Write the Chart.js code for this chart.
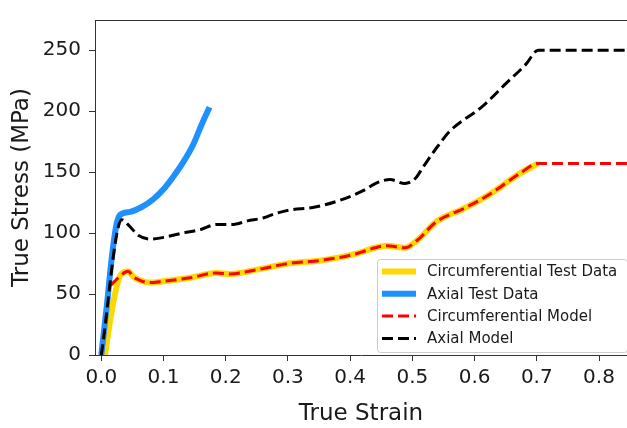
<!DOCTYPE html>
<html>
<head>
<meta charset="utf-8">
<script src="https://cdn.jsdelivr.net/npm/chart.js@4"></script>
<style>
  html, body { margin: 0; padding: 0; background: #fff; }
  #wrap { width: 627px; height: 428px; }
</style>
</head>
<body>
<div id="wrap"><canvas id="grafica" width="627" height="428"></canvas></div>
<script>
// values
const circTestStrain = [0.006, 0.014, 0.022, 0.030, 0.043, 0.052, 0.059, 0.076, 0.100, 0.143, 0.185, 0.207, 0.250, 0.303, 0.356, 0.410, 0.440, 0.459, 0.488, 0.507, 0.539, 0.582, 0.625, 0.673, 0.702];
const circTestStress = [0, 27.7, 50, 64.7, 68.6, 64, 62, 59.4, 60.5, 63.4, 67.3, 66.5, 70, 75.2, 77.8, 83.1, 88, 89.7, 87.9, 93.7, 109.5, 120, 132, 149, 157];

const axialTestStrain = [0.000, 0.009, 0.017, 0.024, 0.030, 0.046, 0.065, 0.084, 0.100, 0.116, 0.132, 0.148, 0.161, 0.174];
const axialTestStress = [0, 41, 80.5, 106, 114.8, 117.4, 121.4, 128, 136, 146.5, 158.4, 172.9, 188.7, 203.3];

const circModelStrain = [0.015, 0.030, 0.043, 0.052, 0.059, 0.076, 0.100, 0.143, 0.185, 0.207, 0.250, 0.303, 0.356, 0.410, 0.440, 0.459, 0.488, 0.507, 0.539, 0.582, 0.625, 0.673, 0.702, 0.845];
const circModelStress = [57, 64.7, 68.6, 64, 62, 59.4, 60.5, 63.4, 67.3, 66.5, 70, 75.2, 77.8, 83.1, 88, 89.7, 87.9, 93.7, 109.5, 120, 132, 149, 157, 157];

const axialModelStrain = [0.000, 0.033, 0.043, 0.060, 0.080, 0.100, 0.130, 0.160, 0.185, 0.210, 0.235, 0.260, 0.280, 0.303, 0.340, 0.384, 0.420, 0.442, 0.464, 0.488, 0.505, 0.517, 0.539, 0.560, 0.614, 0.651, 0.683, 0.702, 0.845];
const axialModelStress = [0, 111, 107, 98, 95, 96.5, 100, 103, 107, 107, 110, 112.4, 116, 119, 121, 127, 134.6, 141, 143.9, 140.7, 145, 154, 170, 183.5, 204.5, 223, 238.8, 250, 250];

const xTicks = [0.0, 0.1, 0.2, 0.3, 0.4, 0.5, 0.6, 0.7, 0.8];
const yTicks = [0, 50, 100, 150, 200, 250];

const pts = (xs, ys) => xs.map((x, i) => ({ x: x, y: ys[i] }));

const ctx = document.getElementById('grafica');

// legend drawn inside the axes, lower right, like matplotlib
const boxLegend = {
    id: 'boxLegend',
    afterDatasetsDraw(chart) {
        const c = chart.ctx;
        const items = chart.data.datasets;
        const x0 = 377, y0 = 259, w = 250, h = 93;
        c.save();
        c.fillStyle = 'rgba(255,255,255,0.85)';
        c.strokeStyle = '#cccccc';
        c.lineWidth = 1;
        c.beginPath();
        c.roundRect(x0 + 0.5, y0 + 0.5, w, h, 3);
        c.fill();
        c.stroke();
        c.font = '15px "DejaVu Sans"';
        c.textBaseline = 'middle';
        items.forEach((ds, i) => {
            const yy = 271.5 + i * 22.3;
            c.beginPath();
            c.strokeStyle = ds.borderColor;
            c.lineWidth = ds.borderWidth;
            c.setLineDash(ds.borderDash || []);
            c.moveTo(382, yy);
            c.lineTo(416, yy);
            c.stroke();
            c.setLineDash([]);
            c.fillStyle = '#1a1a1a';
            c.fillText(ds.label, 427, yy + 1);
        });
        c.restore();
    },
    afterDraw(chart) {
        const a = chart.chartArea;
        const c = chart.ctx;
        c.save();
        c.strokeStyle = '#333';
        c.lineWidth = 1;
        c.beginPath();
        c.moveTo(a.left, a.top + 0.5);
        c.lineTo(a.right, a.top + 0.5);
        c.stroke();
        c.restore();
    }
};

new Chart(ctx, {
    type: 'line',
    data: {
        datasets: [
            {
                label: 'Circumferential Test Data',
                data: pts(circTestStrain, circTestStress),
                borderColor: '#ffd700',
                borderWidth: 6,
                order: 4
            },
            {
                label: 'Axial Test Data',
                data: pts(axialTestStrain, axialTestStress),
                borderColor: '#1e90ff',
                borderWidth: 6,
                order: 3
            },
            {
                label: 'Circumferential Model',
                data: pts(circModelStrain, circModelStress),
                borderColor: '#ff0000',
                borderWidth: 3,
                borderDash: [11, 5],
                order: 2
            },
            {
                label: 'Axial Model',
                data: pts(axialModelStrain, axialModelStress),
                borderColor: '#000000',
                borderWidth: 3,
                borderDash: [11, 5],
                order: 1
            }
        ]
    },
    options: {
        responsive: false,
        animation: false,
        events: [],
        layout: { padding: { left: 0, right: 0, top: 8, bottom: 0 } },
        elements: {
            point: { radius: 0 },
            line: { cubicInterpolationMode: 'monotone', fill: false, borderCapStyle: 'butt', borderJoinStyle: 'round' }
        },
        plugins: {
            legend: { display: false },
            tooltip: { enabled: false }
        },
        scales: {
            x: {
                type: 'linear',
                min: -0.0101,
                max: 0.845,
                afterBuildTicks: (s) => { s.ticks = xTicks.map(v => ({ value: v })); },
                afterFit: (s) => { s.height = 73; },
                grid: { drawOnChartArea: false, drawTicks: true, tickLength: 6, color: '#333' },
                border: { color: '#333', width: 1 },
                ticks: {
                    color: '#1a1a1a',
                    padding: 5,
                    maxRotation: 0,
                    font: { family: 'DejaVu Sans', size: 20 },
                    callback: (v) => v.toFixed(1)
                },
                title: {
                    display: true,
                    text: 'True Strain',
                    color: '#1a1a1a',
                    padding: { top: 2, bottom: 0 },
                    font: { family: 'DejaVu Sans', size: 23 }
                }
            },
            y: {
                type: 'linear',
                min: 0,
                max: 274.8,
                afterBuildTicks: (s) => { s.ticks = yTicks.map(v => ({ value: v })); },
                afterFit: (s) => { s.width = 95; },
                grid: { drawOnChartArea: false, drawTicks: true, tickLength: 6, color: '#333' },
                border: { color: '#333', width: 1 },
                ticks: {
                    color: '#1a1a1a',
                    padding: 8,
                    font: { family: 'DejaVu Sans', size: 20 }
                },
                title: {
                    display: true,
                    text: 'True Stress (MPa)',
                    color: '#1a1a1a',
                    padding: { top: 8, bottom: 0 },
                    font: { family: 'DejaVu Sans', size: 23 }
                }
            }
        }
    },
    plugins: [boxLegend]
});
</script>
</body>
</html>
